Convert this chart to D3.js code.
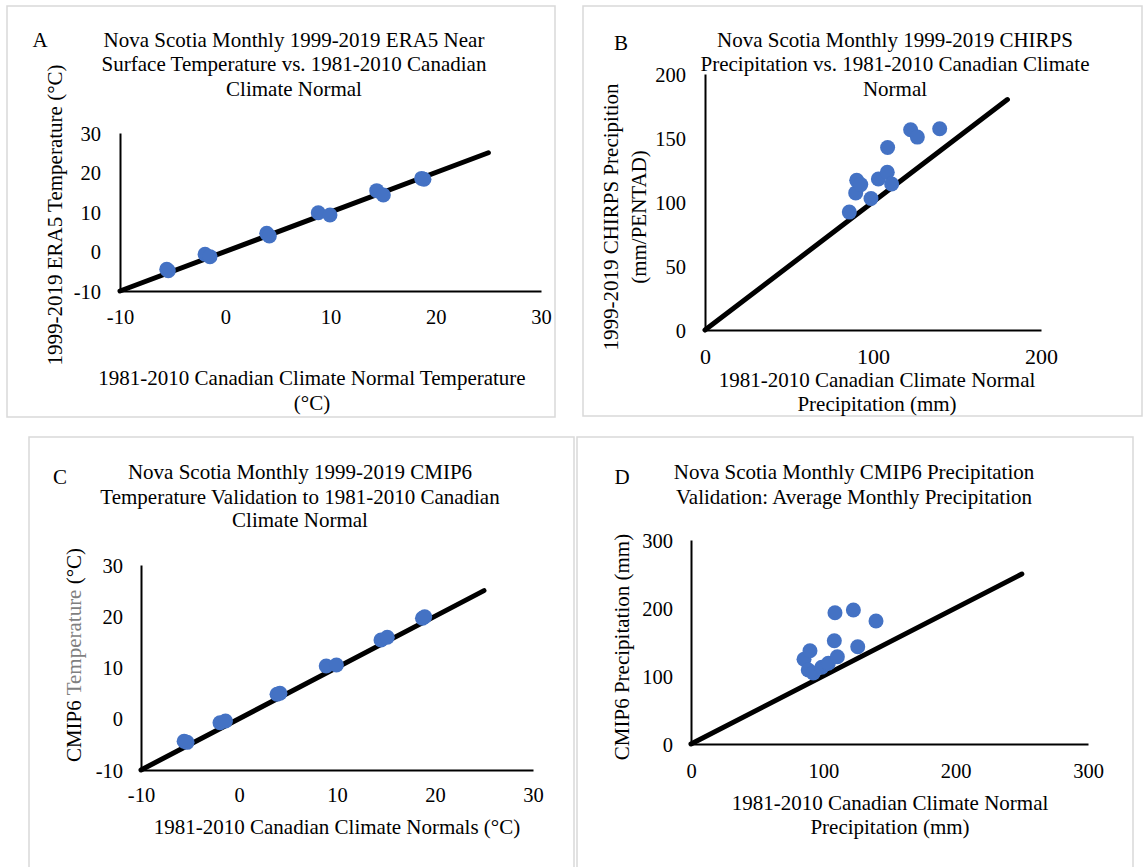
<!DOCTYPE html>
<html>
<head>
<meta charset="utf-8">
<script src="https://cdn.jsdelivr.net/npm/d3@7"></script>
<style>
  body { margin: 0; background: #fff; }
  svg text { font-family: "Liberation Serif", "Times New Roman", serif; fill: #000; }
</style>
</head>
<body>
<script>
// A: ERA5 vs climate normal temperature (°C)
const eraNormalTemp = [-5.56, -5.41, -1.92, -1.45, 3.94, 4.19, 8.84, 9.95, 14.39, 15.02, 18.66, 18.88];
const eraTemp       = [-4.51, -4.86, -0.71, -1.31, 4.60, 3.92, 9.82, 9.24, 15.40, 14.30, 18.50, 18.30];

// B: CHIRPS vs climate normal precipitation
const chirpsNormalPrecip = [85.9, 89.7, 90.3, 92.7, 98.8, 103.2, 108.5, 111.1, 108.7, 122.4, 126.4, 139.7];
const chirpsPrecip       = [92.1, 107.1, 116.9, 113.6, 102.7, 118.0, 123.2, 114.1, 142.6, 156.4, 150.7, 157.2];

// C: CMIP6 vs climate normal temperature
const cmipNormalTemp = [-5.6, -5.3, -1.94, -1.38, 3.88, 4.18, 8.9, 9.94, 14.49, 15.13, 18.72, 18.95];
const cmipTemp       = [-4.4, -4.6, -0.77, -0.44, 4.77, 4.97, 10.29, 10.49, 15.37, 15.89, 19.6, 19.9];

// D: CMIP6 vs climate normal precipitation
const cmipNormalPrecip = [85.4, 88.6, 89.9, 92.4, 98.8, 103.8, 108.3, 108.8, 110.6, 122.7, 126.0, 139.8];
const cmipPrecip       = [124.6, 108.8, 137.2, 104.4, 112.8, 118.7, 151.9, 193.1, 128.4, 197.1, 143.1, 180.9];

const tempTicks = [-10, 0, 10, 20, 30];
const chirpsTicks = [0, 50, 100, 150, 200];
const chirpsXTicks = [0, 100, 200];
const cmipPrecipTicks = [0, 100, 200, 300];

// 1:1 reference line end per panel
const oneToOneEnd = { A: 25, B: 180, C: 25, D: 250 };

const width = 1145, height = 867;
const labelSize = 21, tickSize = 20.5;

const svg = d3.select("body").append("svg")
  .attr("width", width)
  .attr("height", height);

svg.append("rect").attr("width", width).attr("height", height).attr("fill", "#fff");

const panels = [
  {
    id: "A", box: [7, 6, 548, 411],
    xRange: [120, 541], yRange: [291, 133],
    domain: [-10, 30], xTicks: tempTicks, yTicks: tempTicks,
    xs: eraNormalTemp, ys: eraTemp,
    letter: [40, 40],
    title: ["Nova Scotia Monthly 1999-2019 ERA5 Near", "Surface Temperature vs. 1981-2010 Canadian", "Climate Normal"],
    titleX: 294, titleY: [39.5, 64, 88.5],
    xTitle: ["1981-2010 Canadian Climate Normal Temperature", "(°C)"], xTitleX: 312, xTitleY: [378, 403],
    yTitle: [["1999-2019 ERA5 Temperature (°C)"]], yTitleX: [55], yTitleY: 215,
    xTickFont: tickSize, xTickOff: 26, yTickPad: 19
  },
  {
    id: "B", box: [583, 6, 559, 410],
    xRange: [705, 1041], yRange: [330, 74],
    domain: [0, 200], xTicks: chirpsXTicks, yTicks: chirpsTicks,
    xs: chirpsNormalPrecip, ys: chirpsPrecip,
    letter: [621, 43],
    title: ["Nova Scotia Monthly 1999-2019 CHIRPS", "Precipitation vs. 1981-2010 Canadian Climate", "Normal"],
    titleX: 895, titleY: [39.5, 64, 88.5],
    xTitle: ["1981-2010 Canadian Climate Normal", "Precipitation (mm)"], xTitleX: 877, xTitleY: [380, 404],
    yTitle: [["1999-2019 CHIRPS Precipition"], ["(mm/PENTAD)"]], yTitleX: [611, 639], yTitleY: 217,
    xTickFont: 22, xTickOff: 26, yTickPad: 19
  },
  {
    id: "C", box: [29, 437, 545, 440],
    xRange: [141, 533], yRange: [770, 565],
    domain: [-10, 30], xTicks: tempTicks, yTicks: tempTicks,
    xs: cmipNormalTemp, ys: cmipTemp,
    letter: [60, 477],
    title: ["Nova Scotia Monthly 1999-2019 CMIP6", "Temperature Validation to 1981-2010 Canadian", "Climate Normal"],
    titleX: 300, titleY: [471.5, 496.5, 520],
    xTitle: ["1981-2010 Canadian Climate Normals (°C)"], xTitleX: 337, xTitleY: [826.5],
    yTitle: [["CMIP6 ", "Temperature", " (°C)"]], yTitleX: [74], yTitleY: 655,
    xTickFont: tickSize, xTickOff: 25, yTickPad: 18
  },
  {
    id: "D", box: [577, 437, 556, 440],
    xRange: [691, 1088], yRange: [744, 540],
    domain: [0, 300], xTicks: cmipPrecipTicks, yTicks: cmipPrecipTicks,
    xs: cmipNormalPrecip, ys: cmipPrecip,
    letter: [622, 477],
    title: ["Nova Scotia Monthly CMIP6 Precipitation", "Validation: Average Monthly Precipitation"],
    titleX: 854, titleY: [471.5, 496.5],
    xTitle: ["1981-2010 Canadian Climate Normal", "Precipitation (mm)"], xTitleX: 890, xTitleY: [803, 827],
    yTitle: [["CMIP6 Precipitation (mm)"]], yTitleX: [622], yTitleY: 647,
    xTickFont: tickSize, xTickOff: 27, yTickPad: 18
  }
];

panels.forEach(function(p) {
  const g = svg.append("g").attr("class", "panel-" + p.id);

  // frame
  g.append("rect")
    .attr("x", p.box[0]).attr("y", p.box[1])
    .attr("width", p.box[2]).attr("height", p.box[3])
    .attr("fill", "none")
    .attr("stroke", "#d9d9d9")
    .attr("stroke-width", 1.5);

  let x = d3.scaleLinear().domain(p.domain).range(p.xRange);
  let y = d3.scaleLinear().domain(p.domain).range(p.yRange);

  // axes (no tick marks, excel style)
  let yAxis = g.append("g")
    .attr("transform", "translate(" + p.xRange[0] + ",0)")
    .call(d3.axisLeft(y).tickValues(p.yTicks).tickSize(0).tickPadding(p.yTickPad));

  let xAxis = g.append("g")
    .attr("transform", "translate(0," + p.yRange[0] + ")")
    .call(d3.axisBottom(x).tickValues(p.xTicks).tickSize(0));

  [yAxis, xAxis].forEach(function(a) {
    a.select(".domain").attr("stroke", "#000").attr("stroke-width", 2);
    a.selectAll("text")
      .attr("font-family", null)
      .style("font-size", tickSize + "px")
      .attr("dy", null)
      .attr("dominant-baseline", "central")
      .attr("fill", "#000")
      .text(function(d) { return String(d); });   // plain hyphen, as in excel
  });
  xAxis.selectAll("text")
    .attr("y", p.xTickOff)
    .style("font-size", p.xTickFont + "px");

  // 1:1 line
  let lo = p.domain[0], hi = oneToOneEnd[p.id];
  g.append("path")
    .datum([[lo, lo], [hi, hi]])
    .attr("d", d3.line().x(function(d) { return x(d[0]); }).y(function(d) { return y(d[1]); }))
    .attr("stroke", "#000")
    .attr("stroke-width", 5)
    .attr("stroke-linecap", "round")
    .attr("fill", "none");

  // points
  g.append("g").selectAll("circle")
    .data(p.xs.map(function(v, i) { return [v, p.ys[i]]; }))
    .enter().append("circle")
    .attr("cx", function(d) { return x(d[0]); })
    .attr("cy", function(d) { return y(d[1]); })
    .attr("r", 7.5)
    .attr("fill", "#4472c4");

  // letter
  g.append("text")
    .attr("x", p.letter[0]).attr("y", p.letter[1])
    .attr("text-anchor", "middle")
    .attr("dominant-baseline", "central")
    .style("font-size", labelSize + "px")
    .text(p.id);

  // title
  p.title.forEach(function(line, i) {
    g.append("text")
      .attr("x", p.titleX).attr("y", p.titleY[i])
      .attr("text-anchor", "middle")
      .attr("dominant-baseline", "central")
      .style("font-size", labelSize + "px")
      .text(line);
  });

  // x axis title
  p.xTitle.forEach(function(line, i) {
    g.append("text")
      .attr("x", p.xTitleX).attr("y", p.xTitleY[i])
      .attr("text-anchor", "middle")
      .attr("dominant-baseline", "central")
      .style("font-size", labelSize + "px")
      .text(line);
  });

  // y axis title (rotated)
  p.yTitle.forEach(function(parts, i) {
    let t = g.append("text")
      .attr("transform", "translate(" + p.yTitleX[i] + "," + p.yTitleY + ") rotate(-90)")
      .attr("text-anchor", "middle")
      .attr("dominant-baseline", "central")
      .style("font-size", labelSize + "px");
    parts.forEach(function(s) {
      t.append("tspan")
        .attr("fill", s === "Temperature" && p.id === "C" ? "#7f7f7f" : "#000")
        .text(s);
    });
  });
});
</script>
</body>
</html>
